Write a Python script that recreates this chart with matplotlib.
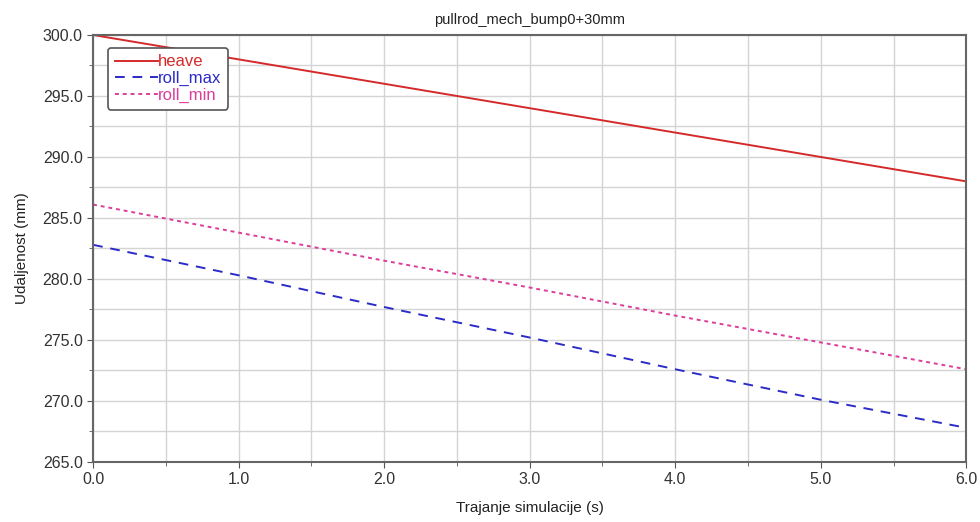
import matplotlib.pyplot as plt
import numpy as np
from matplotlib.ticker import MultipleLocator, FormatStrFormatter

plt.rcParams['font.family'] = ['Liberation Sans', 'DejaVu Sans']

# values at whole seconds
t = [0, 1, 2, 3, 4, 5, 6]
heave = [300.0, 298.0, 296.0, 294.0, 292.0, 290.0, 288.0]
roll_max = [282.8, 280.3, 277.7, 275.2, 272.6, 270.1, 267.8]
roll_min = [286.1, 283.8, 281.5, 279.3, 277.0, 274.8, 272.6]

fig = plt.figure(figsize=(9.8, 5.22), dpi=100)
ax = fig.add_axes([0.095, 0.115, 0.891, 0.818])

ax.plot(t, heave, color='#d42a2a', lw=1.4, label='heave')
ax.plot(t, roll_max, color='#2b2bc8', lw=1.4, ls=(0, (5, 4)), label='roll_max')
ax.plot(t, roll_min, color='#dc3c9c', lw=1.4, ls=(0, (2, 2)), label='roll_min')

ax.set_xlim(0, 6)
ax.set_ylim(265, 300)
ax.xaxis.set_major_locator(MultipleLocator(1))
ax.xaxis.set_minor_locator(MultipleLocator(0.5))
ax.yaxis.set_major_locator(MultipleLocator(5))
ax.yaxis.set_minor_locator(MultipleLocator(2.5))
ax.xaxis.set_major_formatter(FormatStrFormatter('%.1f'))
ax.yaxis.set_major_formatter(FormatStrFormatter('%.1f'))
ax.grid(which='both', color='#d4d4d4', lw=1.0)
ax.set_axisbelow(True)
ax.tick_params(which='both', direction='out', colors='#555555', labelcolor='#333333', labelsize=11.5)
ax.tick_params(which='major', length=4)
ax.tick_params(which='minor', length=3)
for s in ax.spines.values():
    s.set_color('#666666')
    s.set_linewidth(1.5)

ax.set_title('pullrod_mech_bump0+30mm', fontsize=10.5, color='#222222', pad=8)
ax.set_xlabel('Trajanje simulacije (s)', fontsize=11, color='#222222', labelpad=10)
ax.set_ylabel('Udaljenost (mm)', fontsize=11, color='#222222', labelpad=10)

leg = ax.legend(loc='upper left', bbox_to_anchor=(0.017, 0.97), borderaxespad=0,
                fontsize=12, labelcolor='linecolor', handlelength=2.6, handletextpad=0.0,
                labelspacing=0.1, borderpad=0.4, fancybox=True, framealpha=1)
leg.get_frame().set_edgecolor('#555555')
leg.get_frame().set_linewidth(1.2)

fig.savefig('out.png', dpi=100)
